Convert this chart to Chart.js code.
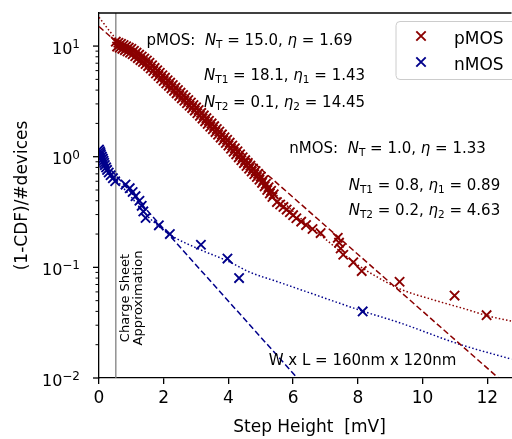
<!DOCTYPE html>
<html lang="en">
<head>
<meta charset="UTF-8" />
<title>Step height distribution</title>
<script src="https://cdn.jsdelivr.net/npm/chart.js"></script>
<style>
  html, body { margin: 0; padding: 0; background: #fff; overflow: hidden; }
  #wrap { width: 512px; height: 439px; overflow: hidden; }
</style>
</head>
<body>
<!-- canvas is a bit wider than the page: the plot runs off the right edge like the original -->
<div id="wrap"><canvas id="chart" width="520" height="439"></canvas></div>
<script>
// ---- values ----
// pMOS: dense band of steps
const pmosBandX = [0.52,0.56,0.60,0.64,0.68,0.72,0.76,0.80,0.84,0.88,0.92,0.96,1.00,1.04,1.08,1.12,1.16,1.20,1.24,1.28,
  1.32,1.36,1.40,1.44,1.48,1.52,1.56,1.60,1.64,1.68,1.72,1.76,1.80,1.84,1.88,1.92,1.96,2.00,2.04,2.08,
  2.12,2.16,2.20,2.24,2.28,2.32,2.36,2.40,2.44,2.48,2.52,2.56,2.60,2.64,2.68,2.72,2.76,2.80,2.84,2.88,
  2.92,2.96,3.00,3.04,3.08,3.12,3.16,3.20,3.24,3.28,3.32,3.36,3.40,3.44,3.48,3.52,3.56,3.60,3.64,3.68,
  3.72,3.76,3.80,3.84,3.88,3.92,3.96,4.00,4.04,4.08,4.12,4.16,4.20,4.24,4.28,4.32,4.36,4.40,4.44,4.48,
  4.52,4.56,4.60,4.64,4.68,4.72,4.76,4.80,4.84,4.88,4.92,4.96,5.00,5.04,5.08,5.12,5.16,5.20,5.24,5.28,
  5.32,5.36,5.40];
const pmosBandY = [10.96,9.89,10.72,9.66,10.47,9.44,10.23,9.20,9.95,8.95,9.68,8.72,9.44,8.43,9.06,8.10,8.71,7.78,8.36,7.47,
  8.04,7.18,7.71,6.89,7.40,6.59,7.05,6.27,6.70,5.95,6.35,5.65,6.04,5.37,5.74,5.10,5.45,4.84,5.18,4.60,
  4.91,4.37,4.67,4.15,4.44,3.94,4.21,3.74,4.00,3.55,3.79,3.37,3.61,3.21,3.43,3.04,3.25,2.89,3.09,2.75,
  2.93,2.61,2.79,2.47,2.64,2.34,2.49,2.21,2.36,2.09,2.23,1.98,2.11,1.87,2.00,1.77,1.89,1.67,1.78,1.58,
  1.69,1.49,1.59,1.41,1.50,1.33,1.42,1.26,1.34,1.18,1.26,1.11,1.19,1.05,1.12,0.987,1.05,0.929,0.989,0.875,
  0.931,0.825,0.879,0.779,0.830,0.735,0.783,0.695,0.741,0.657,0.700,0.620,0.661,0.581,0.614,0.540,0.570,0.501,0.530,0.466,
  0.492,0.433,0.457];
// pMOS: sparse tail
const pmosTailX = [5.50,5.60,5.70,5.80,5.90,6.00,6.10,6.25,6.40,6.60,6.85,7.38,7.42,7.47,7.55,7.86,8.12,9.29,10.99,11.98];
const pmosTailY = [0.389,0.370,0.352,0.333,0.315,0.296,0.278,0.259,0.241,0.222,0.204,0.185,0.167,0.148,0.130,0.111,0.0926,0.0741,0.0556,0.0370];

const nmosX = [0.00,0.03,0.05,0.06,0.09,0.12,0.14,0.16,0.18,0.22,0.25,0.30,0.36,0.43,0.50,0.82,0.95,1.04,1.13,1.25,
  1.32,1.37,1.44,1.85,2.19,3.15,3.97,4.33,8.15];
const nmosY = [1.16,1.12,1.08,1.04,1.00,0.96,0.92,0.88,0.84,0.80,0.76,0.72,0.68,0.64,0.60,0.56,0.52,0.48,0.44,0.40,
  0.36,0.32,0.28,0.24,0.20,0.16,0.12,0.08,0.04];

// single exponential fits (dashed)
const pmosExpX = [0, 12.33];
const pmosExpY = [15.0, 0.0101];
const nmosExpX = [0, 6.13];
const nmosExpY = [1.0, 0.0100];

// double exponential fits (dotted)
const pmosDblX = [0, 0.5, 1.0, 2.0, 3.0, 4.0, 5.0, 6.0, 7.0, 8.0, 8.5, 9.29, 10.32, 11.35, 12.04, 12.75];
const pmosDblY = [18.2, 11.9, 8.8, 4.9, 2.6, 1.3, 0.63, 0.32, 0.18, 0.105, 0.085, 0.064, 0.051, 0.0418, 0.0363, 0.0327];
const nmosDblX = [0, 0.5, 1.0, 1.5, 2.19, 3.12, 3.98, 4.66, 5.5, 6.5, 7.38, 8.14, 9.29, 11.14, 12.75];
const nmosDblY = [1.0, 0.64, 0.43, 0.29, 0.198, 0.145, 0.114, 0.0905, 0.0745, 0.059, 0.048, 0.0403, 0.0316, 0.0202, 0.0148];

const chargeSheetX = 0.52;

const xTicks = [0, 2, 4, 6, 8, 10, 12];
const yDecades = [-2, -1, 0, 1];
const xMin = 0, xMax = 12.75, yMin = 0.01, yMax = 19.9;

const RED = '#8b0000';
const BLUE = '#00008b';
const FONT = '"DejaVu Sans", sans-serif';

const toPts = (xs, ys) => xs.map((x, i) => ({ x: x, y: ys[i] }));

function markers(label, pts, color) {
  return {
    label: label, data: pts, showLine: false,
    pointStyle: 'crossRot', pointRadius: 6.6, pointBorderWidth: 1.9,
    borderColor: color, backgroundColor: color, order: 2
  };
}
function fitLine(xs, ys, color, dash) {
  return {
    data: toPts(xs, ys), showLine: true, pointRadius: 0,
    borderColor: color, borderWidth: 1.5, borderDash: dash,
    cubicInterpolationMode: 'monotone', order: 1
  };
}

// rich text: [text, kind] with kind r = regular, i = italic, s = subscript
function drawRich(ctx, x, y, parts, size) {
  let cx = x;
  parts.forEach(([t, k]) => {
    let fs = size, dy = 0, st = '';
    if (k === 'i') st = 'italic ';
    if (k === 's') { fs = size * 0.7; dy = size * 0.22; }
    ctx.font = st + fs + 'px ' + FONT;
    ctx.fillText(t, cx, y + dy);
    cx += ctx.measureText(t).width;
  });
}

const decor = {
  id: 'decor',
  afterDraw(chart) {
    const { ctx, chartArea: a, scales: { x, y } } = chart;
    ctx.save();
    ctx.strokeStyle = '#000';
    ctx.fillStyle = '#000';
    ctx.lineWidth = 1.3;
    // top spine
    ctx.beginPath(); ctx.moveTo(a.left, a.top); ctx.lineTo(a.right, a.top); ctx.stroke();

    // y ticks and labels
    ctx.textAlign = 'left'; ctx.textBaseline = 'alphabetic';
    yDecades.forEach(d => {
      const py = y.getPixelForValue(Math.pow(10, d));
      ctx.lineWidth = 1.3;
      ctx.beginPath(); ctx.moveTo(a.left - 6, py); ctx.lineTo(a.left, py); ctx.stroke();
      ctx.lineWidth = 1;
      for (let m = 2; m <= 9; m++) {
        const v = m * Math.pow(10, d);
        if (v > yMax) break;
        const pm = y.getPixelForValue(v);
        ctx.beginPath(); ctx.moveTo(a.left - 3.5, pm); ctx.lineTo(a.left, pm); ctx.stroke();
      }
      const sup = d < 0 ? '\u2212' + (-d) : String(d);
      ctx.font = '12px ' + FONT; const ws = ctx.measureText(sup).width;
      ctx.font = '16px ' + FONT; const wb = ctx.measureText('10').width;
      const right = 80;
      ctx.fillText('10', right - ws - wb, py + 7.5);
      ctx.font = '12px ' + FONT;
      ctx.fillText(sup, right - ws, py + 2);
    });

    // axis titles
    ctx.font = '17px ' + FONT;
    ctx.textAlign = 'center';
    ctx.fillText('Step Height  [mV]', 309.5, 432);
    ctx.save();
    ctx.translate(27, (a.top + a.bottom) / 2);
    ctx.rotate(-Math.PI / 2);
    ctx.fillText('(1-CDF)/#devices', 0, 0);
    ctx.restore();

    // charge sheet label
    ctx.save();
    ctx.font = '13px ' + FONT;
    ctx.translate(x.getPixelForValue(chargeSheetX), 298);
    ctx.rotate(-Math.PI / 2);
    ctx.textAlign = 'center';
    ctx.fillText('Charge Sheet', 0, 13.5);
    ctx.fillText('Approximation', 0, 26.5);
    ctx.restore();

    // fit annotations
    ctx.textAlign = 'left';
    const fs = 15;
    drawRich(ctx, 146.5, 44.5, [['pMOS:  ', 'r'], ['N', 'i'], ['T', 's'], [' = 15.0, ', 'r'], ['\u03b7', 'i'], [' = 1.69', 'r']], fs);
    drawRich(ctx, 204, 80, [['N', 'i'], ['T1', 's'], [' = 18.1, ', 'r'], ['\u03b7', 'i'], ['1', 's'], [' = 1.43', 'r']], fs);
    drawRich(ctx, 204, 106.5, [['N', 'i'], ['T2', 's'], [' = 0.1, ', 'r'], ['\u03b7', 'i'], ['2', 's'], [' = 14.45', 'r']], fs);
    drawRich(ctx, 289.3, 152.5, [['nMOS:  ', 'r'], ['N', 'i'], ['T', 's'], [' = 1.0, ', 'r'], ['\u03b7', 'i'], [' = 1.33', 'r']], fs);
    drawRich(ctx, 348.7, 190, [['N', 'i'], ['T1', 's'], [' = 0.8, ', 'r'], ['\u03b7', 'i'], ['1', 's'], [' = 0.89', 'r']], fs);
    drawRich(ctx, 348.7, 215, [['N', 'i'], ['T2', 's'], [' = 0.2, ', 'r'], ['\u03b7', 'i'], ['2', 's'], [' = 4.63', 'r']], fs);
    ctx.font = '15px ' + FONT;
    ctx.fillText('W x L = 160nm x 120nm', 268.7, 365);

    // legend
    const lx = 396, ly = 21.5, lw = 130, lh = 58, r = 4;
    ctx.beginPath();
    ctx.moveTo(lx + r, ly); ctx.lineTo(lx + lw - r, ly); ctx.arcTo(lx + lw, ly, lx + lw, ly + r, r);
    ctx.lineTo(lx + lw, ly + lh - r); ctx.arcTo(lx + lw, ly + lh, lx + lw - r, ly + lh, r);
    ctx.lineTo(lx + r, ly + lh); ctx.arcTo(lx, ly + lh, lx, ly + lh - r, r);
    ctx.lineTo(lx, ly + r); ctx.arcTo(lx, ly, lx + r, ly, r);
    ctx.closePath();
    ctx.fillStyle = 'rgba(255,255,255,0.8)';
    ctx.fill();
    ctx.strokeStyle = '#cccccc'; ctx.lineWidth = 1;
    ctx.stroke();
    [['pMOS', RED, 36], ['nMOS', BLUE, 62]].forEach(([t, c, cy]) => {
      const s = 4.7;
      ctx.strokeStyle = c; ctx.lineWidth = 1.9;
      ctx.beginPath();
      ctx.moveTo(421 - s, cy - s); ctx.lineTo(421 + s, cy + s);
      ctx.moveTo(421 - s, cy + s); ctx.lineTo(421 + s, cy - s);
      ctx.stroke();
      ctx.fillStyle = '#000';
      ctx.font = '17px ' + FONT;
      ctx.fillText(t, 454, cy + 7.5);
    });
    ctx.restore();
  }
};

new Chart(document.getElementById('chart'), {
  type: 'scatter',
  data: {
    datasets: [
      markers('pMOS', toPts(pmosBandX, pmosBandY).concat(toPts(pmosTailX, pmosTailY)), RED),
      markers('nMOS', toPts(nmosX, nmosY), BLUE),
      fitLine(pmosExpX, pmosExpY, RED, [6, 3]),
      fitLine(pmosDblX, pmosDblY, RED, [1.5, 2.2]),
      fitLine(nmosExpX, nmosExpY, BLUE, [6, 3]),
      fitLine(nmosDblX, nmosDblY, BLUE, [1.5, 2.2]),
      {
        data: [{ x: chargeSheetX, y: yMin }, { x: chargeSheetX, y: yMax }],
        showLine: true, pointRadius: 0, borderColor: '#808080', borderWidth: 1.3, order: 5
      }
    ]
  },
  options: {
    responsive: false,
    devicePixelRatio: 1,
    animation: false,
    events: [],
    layout: { padding: { top: 13, left: 0, right: 0, bottom: 0 } },
    plugins: { legend: { display: false }, tooltip: { enabled: false } },
    scales: {
      x: {
        type: 'linear', min: xMin, max: xMax,
        afterFit: s => { s.height = 61; s.paddingLeft = 0; s.paddingRight = 0; },
        afterBuildTicks: s => { s.ticks = xTicks.map(v => ({ value: v })); },
        ticks: { color: '#000', font: { family: FONT, size: 17 }, padding: 4, maxRotation: 0 },
        grid: { drawOnChartArea: false, color: '#000', lineWidth: 1.3, tickLength: 6 },
        border: { color: '#000', width: 1.3 }
      },
      y: {
        type: 'logarithmic', min: yMin, max: yMax,
        afterFit: s => { s.width = 99; },
        ticks: { display: false },
        grid: { display: false },
        border: { color: '#000', width: 1.3 }
      }
    }
  },
  plugins: [decor]
});
</script>
</body>
</html>
